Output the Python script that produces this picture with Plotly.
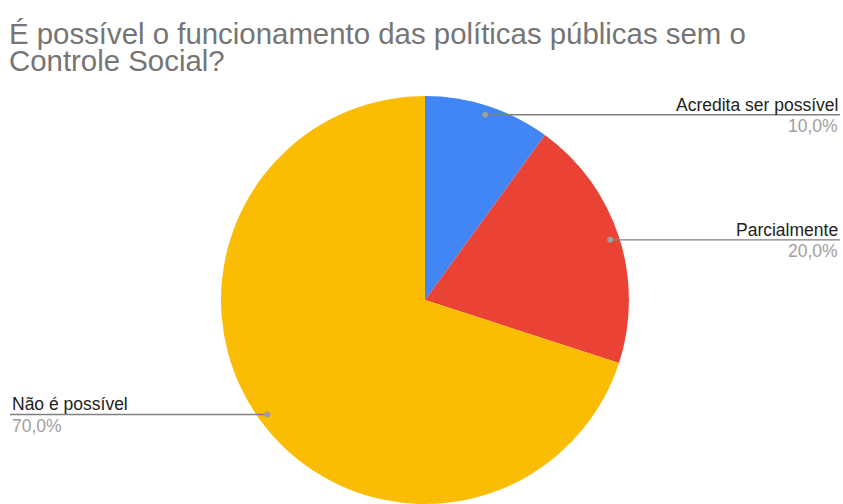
import math
import plotly.graph_objects as go

# Survey answers
categories = ["Acredita ser possível", "Parcialmente", "Não é possível"]
values = [10, 20, 70]
pct_labels = ["10,0%", "20,0%", "70,0%"]
colors = ["#4285F4", "#EA4335", "#FBBC04"]

W, H = 843, 504
dom_x = [0.2622, 0.7461]
dom_y = [0.0, 408 / 504]
FONT = "Liberation Sans, Arial, sans-serif"

fig = go.Figure(
    go.Pie(
        labels=categories,
        values=values,
        sort=False,
        direction="clockwise",
        rotation=0,
        marker=dict(colors=colors, line=dict(width=0)),
        textinfo="none",
        hoverinfo="label+percent",
        domain=dict(x=dom_x, y=dom_y),
        showlegend=False,
    )
)

# Pie geometry in pixels (derived from the domain)
cx = W * (dom_x[0] + dom_x[1]) / 2
cy = H - H * (dom_y[0] + dom_y[1]) / 2
R = min(W * (dom_x[1] - dom_x[0]), H * (dom_y[1] - dom_y[0])) / 2


def px(x):
    return x / W


def py(y):
    return 1 - y / H


shapes = []
annotations = []
total = sum(values)
start = 0.0
for name, v, pct in zip(categories, values, pct_labels):
    mid = (start + v / 2) / total * 2 * math.pi
    start += v
    r = 0.955 * R
    dx = cx + r * math.sin(mid)
    dy = cy - r * math.cos(mid)
    right = math.sin(mid) >= 0
    end_x = W - 3 if right else 10
    shapes.append(dict(type="line", xref="paper", yref="paper",
                       x0=px(dx), y0=py(dy), x1=px(end_x), y1=py(dy),
                       line=dict(color="#808080", width=1.3)))
    shapes.append(dict(type="circle", xref="paper", yref="paper",
                       x0=px(dx - 3), y0=py(dy - 3), x1=px(dx + 3), y1=py(dy + 3),
                       fillcolor="#9e9e9e", line=dict(width=0)))
    anchor = "right" if right else "left"
    annotations.append(dict(x=px(end_x), y=py(dy - 10), xref="paper", yref="paper",
                            text=name, showarrow=False, xanchor=anchor, yanchor="middle",
                            font=dict(family=FONT, size=17.5, color="#222222")))
    annotations.append(dict(x=px(end_x), y=py(dy + 11.5), xref="paper", yref="paper",
                            text=pct, showarrow=False, xanchor=anchor, yanchor="middle",
                            font=dict(family=FONT, size=17.5, color="#a0a0a0")))

# Two-line title set tighter than Plotly's default line height
title_lines = ["É possível o funcionamento das políticas públicas sem o", "Controle Social?"]
for i, line in enumerate(title_lines):
    annotations.append(dict(x=px(7), y=py(33.5 + 26.5 * i), xref="paper", yref="paper",
                            text=line, showarrow=False, xanchor="left", yanchor="middle",
                            font=dict(family=FONT, size=29.4, color="#757575")))

fig.update_layout(
    width=W, height=H,
    margin=dict(l=0, r=0, t=0, b=0),
    paper_bgcolor="white",
    plot_bgcolor="white",
    shapes=shapes,
    annotations=annotations,
)

fig.write_html("out.html")
